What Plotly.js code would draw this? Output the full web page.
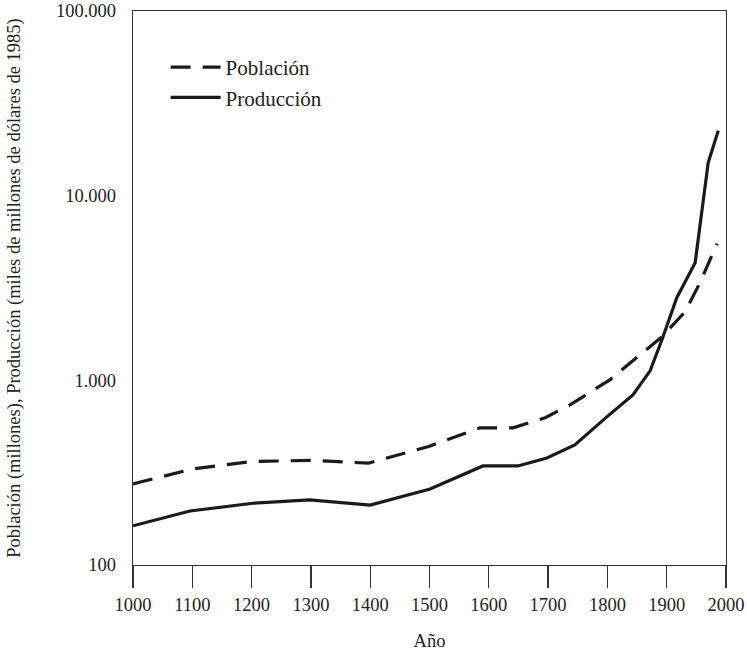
<!DOCTYPE html>
<html>
<head>
<meta charset="utf-8">
<script src="https://cdn.plot.ly/plotly-3.0.1.min.js"></script>
<style>html,body{margin:0;padding:0;background:#fff;}#chart{width:747px;height:651px;}</style>
</head>
<body>
<div id="chart"></div>
<script>
// Población (millones)
const popYears = [1000, 1100, 1200, 1300, 1397, 1500, 1585, 1641, 1695, 1737, 1804, 1852, 1892, 1931, 1956, 1985];
const popValues = [275, 331, 363, 369, 356, 440, 553, 553, 627, 736, 1006, 1340, 1722, 2350, 3375, 5495];
// Producción (miles de millones de dólares de 1985)
const prodYears = [1000, 1096, 1202, 1298, 1400, 1501, 1590, 1649, 1698, 1745, 1799, 1843, 1872, 1892, 1917, 1948, 1970, 1987];
const prodValues = [163, 196, 216, 225, 211, 258, 344, 344, 380, 447, 634, 834, 1126, 1658, 2800, 4335, 15100, 22500];

const xTicks = [1000, 1100, 1200, 1300, 1400, 1500, 1600, 1700, 1800, 1900, 2000];
const yTickVals = [100, 1000, 10000, 100000];
const yTickText = ["100", "1.000", "10.000", "100.000"];

const font = "'Liberation Serif', 'Times New Roman', serif";
const ink = "#1a1a1a";

const traces = [
  {x: popYears, y: popValues, name: "Población", mode: "lines",
   line: {color: ink, width: 3.2, dash: "20px,12px"}},
  {x: prodYears, y: prodValues, name: "Producción", mode: "lines",
   line: {color: ink, width: 3.2}}
];

const layout = {
  width: 747, height: 651,
  margin: {l: 133, r: 21, t: 11, b: 86},
  paper_bgcolor: "#fff", plot_bgcolor: "#fff",
  font: {family: font, size: 18.5, color: "#222"},
  showlegend: true,
  legend: {x: 0.055, y: 0.935, xanchor: "left", yanchor: "top",
           font: {family: font, size: 21, color: "#222"},
           bgcolor: "rgba(0,0,0,0)", itemwidth: 50},
  xaxis: {
    range: [1000, 2000], tickvals: xTicks, ticktext: xTicks.map(String),
    showgrid: false, zeroline: false,
    showline: true, linecolor: "#333", linewidth: 1.3, mirror: true,
    ticks: "outside", ticklen: 22, tickcolor: "#333", tickwidth: 1.3,
    tickfont: {family: font, size: 18.5, color: "#222"},
    title: {text: "Año", font: {family: font, size: 18.5, color: "#222"}, standoff: 20}
  },
  yaxis: {
    type: "log", range: [2, 5], tickvals: yTickVals, ticktext: yTickText,
    showgrid: false, zeroline: false,
    showline: true, linecolor: "#333", linewidth: 1.3, mirror: true,
    ticks: "", ticklabelstandoff: 12,
    tickfont: {family: font, size: 18.5, color: "#222"},
    title: {text: "Población (millones), Producción (miles de millones de dólares de 1985)",
            font: {family: font, size: 18.5, color: "#222"}, standoff: 30}
  }
};

Plotly.newPlot("chart", traces, layout, {displayModeBar: false, staticPlot: true});
</script>
</body>
</html>
